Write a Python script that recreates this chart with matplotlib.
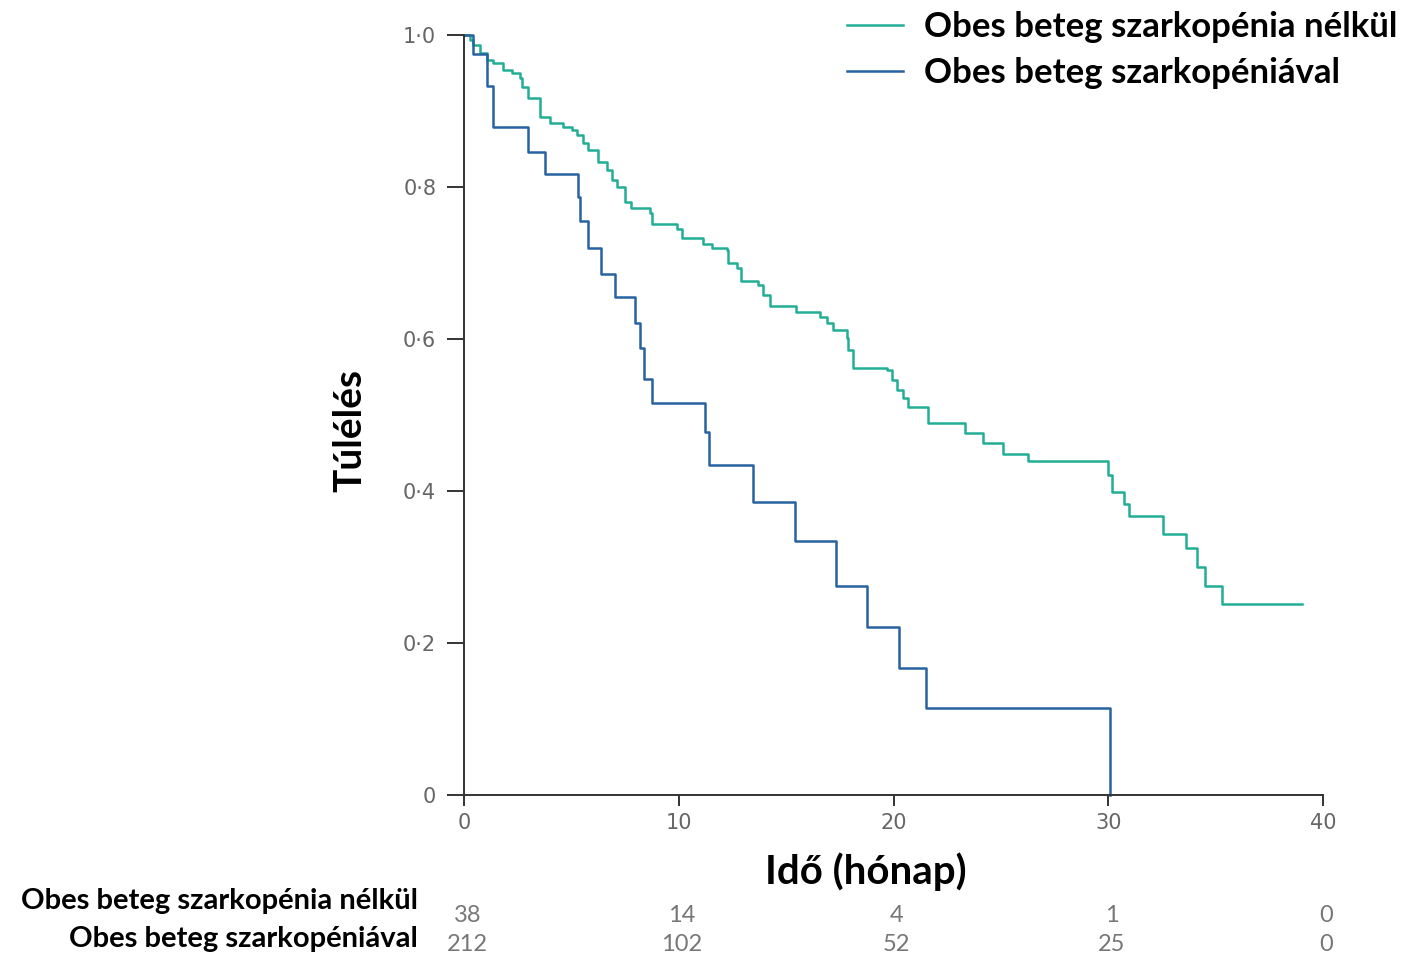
import matplotlib.pyplot as plt
import numpy as np

# survival curves (months, survival after each drop)
green_t = [0, 0.28, 0.42, 0.75, 1.07, 1.35, 1.82, 2.24, 2.61, 2.70, 2.98, 3.54, 4.00, 4.61,
           5.03, 5.26, 5.54, 5.77, 6.24, 6.66, 6.89, 7.12, 7.50, 7.78, 8.66, 8.75, 9.92,
           10.15, 11.13, 11.55, 12.25, 12.29, 12.71, 12.90, 13.69, 13.92, 14.25, 15.46,
           16.58, 16.90, 17.18, 17.83, 17.88, 18.11, 19.70, 19.93, 20.16, 20.44, 20.68,
           21.61, 23.33, 24.17, 25.10, 26.26, 29.99, 30.17, 30.73, 30.97, 32.55, 33.62,
           34.13, 34.51, 35.30, 39.0]
green_s = [1.0, 0.993, 0.987, 0.976, 0.967, 0.963, 0.954, 0.950, 0.943, 0.932, 0.917, 0.892,
           0.884, 0.879, 0.875, 0.868, 0.858, 0.849, 0.833, 0.822, 0.809, 0.800, 0.780,
           0.772, 0.766, 0.751, 0.745, 0.733, 0.725, 0.720, 0.717, 0.700, 0.693, 0.676,
           0.671, 0.658, 0.643, 0.635, 0.629, 0.621, 0.612, 0.601, 0.585, 0.562, 0.559,
           0.546, 0.533, 0.522, 0.511, 0.489, 0.476, 0.463, 0.449, 0.439, 0.421, 0.399,
           0.383, 0.367, 0.343, 0.325, 0.300, 0.275, 0.251, 0.251]

blue_t = [0, 0.42, 1.07, 1.35, 2.98, 3.77, 5.31, 5.40, 5.77, 6.38, 7.03, 7.96, 8.20, 8.38,
          8.75, 11.22, 11.41, 13.46, 15.41, 17.32, 18.77, 20.26, 21.51, 30.08]
blue_s = [1.0, 0.975, 0.933, 0.879, 0.846, 0.817, 0.787, 0.755, 0.720, 0.686, 0.655, 0.621,
          0.588, 0.547, 0.516, 0.478, 0.434, 0.386, 0.334, 0.275, 0.221, 0.167, 0.114, 0.0]

labels = ['Obes beteg szarkopénia nélkül', 'Obes beteg szarkopéniával']
risk_times = [0, 10, 20, 30, 40]
risk_green = [38, 14, 4, 1, 0]
risk_blue = [212, 102, 52, 25, 0]
xticks = [0, 10, 20, 30, 40]
yticks = [0, 0.2, 0.4, 0.6, 0.8, 1.0]
ytick_labels = ['0', '0·2', '0·4', '0·6', '0·8', '1·0']

green_col = '#22ad95'
blue_col = '#2763a0'
tick_col = '#666666'

fig = plt.figure(figsize=(14.11, 9.58), dpi=100)
ax = fig.add_axes([464 / 1411, 1 - 795 / 958, 859 / 1411, 760 / 958])

l1, = ax.step(green_t, green_s, where='post', color=green_col, lw=1.8, clip_on=False)
l2, = ax.step(blue_t, blue_s, where='post', color=blue_col, lw=1.8, clip_on=False)

ax.set_xlim(0, 40)
ax.set_ylim(0, 1)
ax.spines['top'].set_visible(False)
ax.spines['right'].set_visible(False)
for s in ['left', 'bottom']:
    ax.spines[s].set_color('#333333')
    ax.spines[s].set_linewidth(1.4)
ax.set_xticks(xticks)
ax.set_xticklabels([str(x) for x in xticks])
ax.set_yticks(yticks)
ax.set_yticklabels(ytick_labels)
ax.tick_params(axis='y', length=12, width=1.4, color='#333333', labelcolor=tick_col,
               labelsize=15, pad=8)
ax.tick_params(axis='x', length=8, width=1.4, color='#333333', labelcolor=tick_col,
               labelsize=15, pad=5)

ax.set_ylabel('Túlélés', fontsize=28, fontweight='bold', family='Lato')
ax.yaxis.label.set_va('center')
ax.yaxis.set_label_coords(-0.133, 0.48)
ax.set_xlabel('Idő (hónap)', fontsize=29, fontweight='bold', family='Lato')
ax.xaxis.label.set_va('center')
ax.xaxis.set_label_coords(0.468, -0.101)

ax.legend([l1, l2], labels, loc='upper right', bbox_to_anchor=(1397 / 1411, 1 - 11 / 958),
          bbox_transform=fig.transFigure, frameon=False, borderpad=0, borderaxespad=0,
          handlelength=1.6, handletextpad=0.6, labelspacing=0.4,
          prop={'family': 'Lato', 'weight': 'bold', 'size': 25})

# number at risk table
tr = ax.get_xaxis_transform()
label_y = [-0.139, -0.189]
num_y = [-0.158, -0.197]
for lab, ly, ny, vals in zip(labels, label_y, num_y, [risk_green, risk_blue]):
    ax.text(-0.054, ly, lab, transform=ax.transAxes, ha='right', va='center',
            fontsize=21, fontweight='bold', family='Lato')
    for t, v in zip(risk_times, vals):
        ax.text(t + 0.15, ny, str(v), transform=tr, ha='center', va='center',
                fontsize=17, color='#777777', family='Lato')

fig.savefig('out.png', dpi=100, facecolor='white')
